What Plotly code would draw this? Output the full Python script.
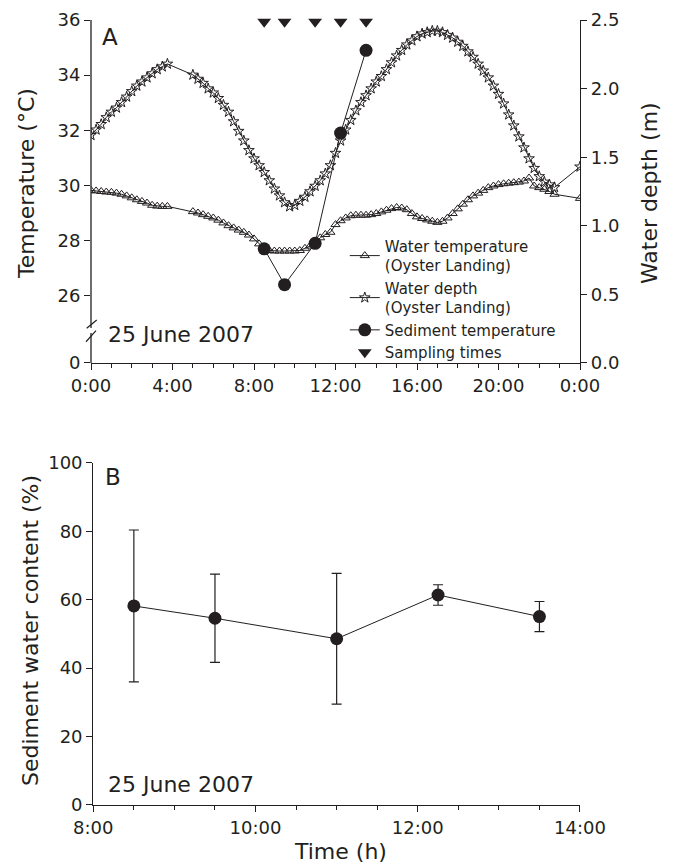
import plotly.graph_objects as go

# ---------------- Panel A data ----------------
# time of day (h) of the Oyster Landing records
time_h = [0.0, 0.25, 0.5, 0.75, 1.0, 1.25, 1.5, 1.75, 2.0, 2.25, 2.5, 2.75, 3.0, 3.25, 3.5, 3.75,
          5.0, 5.25, 5.5, 5.75, 6.0, 6.25, 6.5, 6.75, 7.0, 7.25, 7.5, 7.75, 8.0, 8.25, 8.5, 8.75,
          9.0, 9.25, 9.5, 9.75, 10.0, 10.25, 10.5, 10.75, 11.0, 11.25, 11.5, 11.75, 12.0, 12.25,
          12.5, 12.75, 13.0, 13.25, 13.5, 13.75, 14.0, 14.25, 14.5, 14.75, 15.0, 15.25, 15.5,
          15.75, 16.0, 16.25, 16.5, 16.75, 17.0, 17.25, 17.5, 17.75, 18.0, 18.25, 18.5, 18.75,
          19.0, 19.25, 19.5, 19.75, 20.0, 20.25, 20.5, 20.75, 21.0, 21.25, 21.5, 21.75, 22.0,
          22.25, 22.5, 22.75, 24.0]

water_temp = [29.82, 29.80, 29.78, 29.76, 29.75, 29.72, 29.68, 29.62, 29.55, 29.48, 29.42, 29.36,
              29.28, 29.25, 29.24, 29.24,
              29.05, 29.00, 28.94, 28.88, 28.82, 28.74, 28.64, 28.54, 28.46, 28.38, 28.30, 28.20,
              28.06, 27.88, 27.72, 27.64, 27.62, 27.62, 27.62, 27.62, 27.62, 27.64, 27.72, 27.80,
              27.92, 28.10, 28.22, 28.30, 28.58, 28.72, 28.82, 28.90, 28.92, 28.92, 28.92, 28.94,
              28.98, 29.04, 29.10, 29.16, 29.20, 29.18, 29.12, 28.98, 28.86, 28.80, 28.75, 28.70,
              28.66, 28.70, 28.82, 28.98, 29.15, 29.32, 29.48, 29.62, 29.72, 29.82, 29.92, 29.98,
              30.03, 30.06, 30.08, 30.10, 30.12, 30.16, 30.27, 29.98, 29.92, 29.86, 29.78, 29.68,
              29.53]

water_depth = [1.66, 1.70, 1.74, 1.79, 1.83, 1.86, 1.90, 1.94, 1.98, 2.02, 2.05, 2.08, 2.11, 2.14,
               2.16, 2.18,
               2.10, 2.07, 2.04, 2.00, 1.97, 1.93, 1.88, 1.83, 1.76, 1.69, 1.62, 1.55, 1.49, 1.44,
               1.39, 1.33, 1.27, 1.22, 1.17, 1.14, 1.15, 1.18, 1.21, 1.25, 1.29, 1.33, 1.38, 1.44,
               1.53, 1.62, 1.70, 1.77, 1.84, 1.90, 1.95, 2.00, 2.05, 2.09, 2.14, 2.19, 2.24, 2.28,
               2.32, 2.35, 2.38, 2.40, 2.41, 2.42, 2.42, 2.41, 2.39, 2.37, 2.34, 2.31, 2.27, 2.23,
               2.18, 2.13, 2.08, 2.02, 1.96, 1.89, 1.81, 1.73, 1.65, 1.57, 1.49, 1.42, 1.36, 1.32,
               1.30, 1.28, 1.43]

sample_times = [8.5, 9.5, 11.0, 12.25, 13.5]
sediment_temp = [27.7, 26.4, 27.9, 31.9, 34.9]
sample_level = 35.94  # sampling-time markers drawn along the top of panel A

# ---------------- Panel B data ----------------
water_content = [58.2, 54.6, 48.6, 61.4, 55.1]
water_content_err = [22.2, 12.9, 19.1, 3.0, 4.4]

# ---------------- Axes / ticks ----------------
tA_vals = [0, 4, 8, 12, 16, 20, 24]
tA_text = ["0:00", "4:00", "8:00", "12:00", "16:00", "20:00", "0:00"]
temp_break_bottom = 23.56          # value mapped to the "0" label below the axis break
temp_vals = [temp_break_bottom, 26, 28, 30, 32, 34, 36]
temp_text = ["0", "26", "28", "30", "32", "34", "36"]
tB_vals = [8, 10, 12, 14]
tB_text = ["8:00", "10:00", "12:00", "14:00"]

FONT = "DejaVu Sans"
TICK = 18
BLACK = "#231f20"

fig = go.Figure()

fig.add_trace(go.Scatter(
    x=time_h, y=water_temp, mode="lines+markers",
    name="Water temperature<br>(Oyster Landing)",
    line=dict(color=BLACK, width=1),
    marker=dict(symbol="triangle-up-open", size=8, color=BLACK, line=dict(width=1)),
    xaxis="x", yaxis="y"))

fig.add_trace(go.Scatter(
    x=time_h, y=water_depth, mode="lines+markers",
    name="Water depth<br>(Oyster Landing)",
    line=dict(color=BLACK, width=1),
    marker=dict(symbol="star-open", size=8, color=BLACK, line=dict(width=1)),
    xaxis="x", yaxis="y2"))

fig.add_trace(go.Scatter(
    x=sample_times, y=sediment_temp, mode="lines+markers",
    name="Sediment temperature",
    line=dict(color=BLACK, width=1),
    marker=dict(symbol="circle", size=13, color=BLACK),
    xaxis="x", yaxis="y"))

fig.add_trace(go.Scatter(
    x=sample_times, y=[sample_level] * len(sample_times), mode="markers",
    name="Sampling times",
    marker=dict(symbol="triangle-down", size=12, color=BLACK),
    cliponaxis=False,
    xaxis="x", yaxis="y"))

fig.add_trace(go.Scatter(
    x=sample_times, y=water_content, mode="lines+markers",
    showlegend=False,
    line=dict(color=BLACK, width=1),
    marker=dict(symbol="circle", size=13, color=BLACK),
    error_y=dict(type="data", array=water_content_err, visible=True,
                 color=BLACK, thickness=1.2, width=5),
    xaxis="x2", yaxis="y3"))

axis_common = dict(showgrid=False, zeroline=False, color=BLACK, automargin=False,
                   tickfont=dict(family=FONT, size=TICK, color=BLACK),
                   ticks="outside", ticklen=6, tickwidth=1.2, tickcolor=BLACK,
                   linecolor=BLACK, linewidth=1.3)

fig.update_layout(
    width=675, height=863,
    margin=dict(l=91, r=95, t=20, b=58),
    paper_bgcolor="white", plot_bgcolor="white",
    font=dict(family=FONT, color=BLACK),
    xaxis=dict(domain=[0, 1], anchor="y", range=[0, 24],
               tickvals=tA_vals, ticktext=tA_text, showline=True,
               minor=dict(dtick=1, ticks="outside", ticklen=4, tickwidth=1.2, tickcolor=BLACK),
               **axis_common),
    yaxis=dict(domain=[0.5631, 1], anchor="x", range=[temp_break_bottom, 36],
               tickvals=temp_vals, ticktext=temp_text, showline=False,
               **axis_common),
    yaxis2=dict(overlaying="y", side="right", anchor="x", range=[0, 2.5],
                dtick=0.5, tickformat=".1f", showline=True,
                **axis_common),
    xaxis2=dict(domain=[0.0047, 1], anchor="y3", range=[8, 14],
                tickvals=tB_vals, ticktext=tB_text, showline=True,
                minor=dict(dtick=0.5, ticks="outside", ticklen=4, tickwidth=1.2, tickcolor=BLACK),
                **axis_common),
    yaxis3=dict(domain=[0, 0.4357], anchor="x2", range=[0, 100], dtick=20, showline=True,
                **axis_common),
    legend=dict(x=0.519, y=0.733, xanchor="left", yanchor="top",
                bgcolor="rgba(0,0,0,0)", borderwidth=0,
                font=dict(family=FONT, size=15, color=BLACK),
                tracegroupgap=0, itemwidth=30),
    showlegend=True,
)

# broken left axis line of panel A (drawn as two segments + break marks)
shapes = [
    dict(type="line", xref="paper", yref="y", x0=0, x1=0, y0=24.83, y1=36,
         line=dict(color=BLACK, width=1.3)),
    dict(type="line", xref="paper", yref="y", x0=0, x1=0, y0=temp_break_bottom, y1=24.65,
         line=dict(color=BLACK, width=1.3)),
    dict(type="line", xref="paper", yref="y", x0=-0.0088, x1=0.0117, y0=24.82, y1=25.12,
         line=dict(color=BLACK, width=1.2)),
    dict(type="line", xref="paper", yref="y", x0=-0.0102, x1=0.0102, y0=24.33, y1=24.73,
         line=dict(color=BLACK, width=1.2)),
]
fig.update_layout(shapes=shapes)

TITLE = dict(family=FONT, size=22, color=BLACK)
# axis titles
fig.add_annotation(text="Temperature (°C)", xref="paper", yref="paper",
                   x=(27 - 91) / 489, y=(805 - 184) / 785, textangle=-90,
                   xanchor="center", yanchor="middle", showarrow=False, font=TITLE)
fig.add_annotation(text="Water depth (m)", xref="paper", yref="paper",
                   x=(650 - 91) / 489, y=(805 - 193) / 785, textangle=-90,
                   xanchor="center", yanchor="middle", showarrow=False, font=TITLE)
fig.add_annotation(text="Sediment water content (%)", xref="paper", yref="paper",
                   x=(30 - 91) / 489, y=(805 - 631) / 785, textangle=-90,
                   xanchor="center", yanchor="middle", showarrow=False, font=TITLE)
fig.add_annotation(text="Time (h)", xref="paper", yref="paper",
                   x=(340 - 91) / 489, y=(805 - 851) / 785,
                   xanchor="center", yanchor="middle", showarrow=False, font=TITLE)

# panel labels and dates
fig.add_annotation(text="A", xref="paper", yref="paper", x=0.039, y=(805 - 37) / 785,
                   xanchor="center", yanchor="middle",
                   showarrow=False, font=dict(family=FONT, size=23, color=BLACK))
fig.add_annotation(text="25 June 2007", xref="paper", yref="paper", x=0.031, y=(805 - 334) / 785,
                   xanchor="left", yanchor="middle",
                   showarrow=False, font=dict(family=FONT, size=22, color=BLACK))
fig.add_annotation(text="B", xref="paper", yref="paper", x=0.045, y=(805 - 477) / 785,
                   xanchor="center", yanchor="middle",
                   showarrow=False, font=dict(family=FONT, size=23, color=BLACK))
fig.add_annotation(text="25 June 2007", xref="paper", yref="paper", x=0.031, y=(805 - 784) / 785,
                   xanchor="left", yanchor="middle",
                   showarrow=False, font=dict(family=FONT, size=22, color=BLACK))

fig.write_html("out.html")
